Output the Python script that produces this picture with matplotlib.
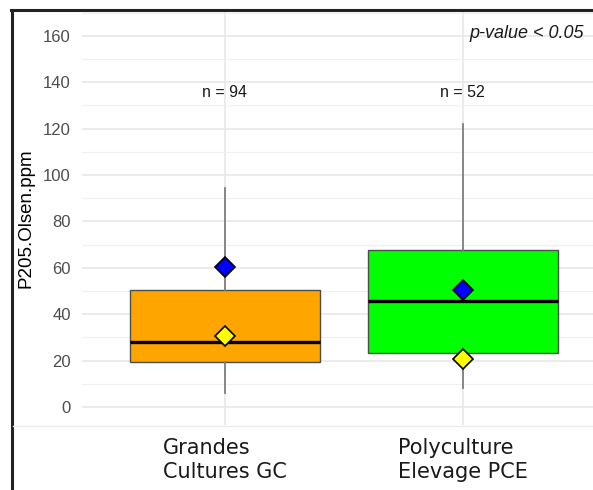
import matplotlib.pyplot as plt
from matplotlib.lines import Line2D
from matplotlib.ticker import MultipleLocator

# data
categories = ['Grandes\nCultures GC', 'Polyculture\nElevage PCE']
n_obs = [94, 52]
whislo = [6, 8]
q1 = [19.5, 23.4]
med = [28.1, 45.7]
q3 = [50.4, 67.7]
whishi = [94.4, 122]
blue_pts = [60.5, 50.4]
yellow_pts = [30.6, 20.5]
box_colors = ['#FFA500', '#00FF00']

W, H = 593, 490
fig = plt.figure(figsize=(W / 100, H / 100), dpi=100)

# axes placed in pixel coords
left, right, bottom, top = 82, 593, 425, 12
ax = fig.add_axes([left / W, (H - bottom) / H, (right - left) / W, (bottom - top) / H])

pos = [1, 2]
stats = []
for i in range(len(categories)):
    stats.append(dict(whislo=whislo[i], q1=q1[i], med=med[i], q3=q3[i],
                      whishi=whishi[i], fliers=[]))

bp = ax.bxp(stats, positions=pos, widths=0.8, patch_artist=True, showcaps=False,
            boxprops=dict(edgecolor='#4d4d4d', linewidth=1.0),
            whiskerprops=dict(color='#7f7f7f', linewidth=1.3),
            medianprops=dict(color='black', linewidth=2.4),
            zorder=2)
for patch, c in zip(bp['boxes'], box_colors):
    patch.set_facecolor(c)

ax.plot(pos, blue_pts, linestyle='none', marker='D', markersize=10,
        markerfacecolor='#0000FF', markeredgecolor='black', markeredgewidth=1.2, zorder=4)
ax.plot(pos, yellow_pts, linestyle='none', marker='D', markersize=10,
        markerfacecolor='#FFFF00', markeredgecolor='black', markeredgewidth=1.2, zorder=4)

for p, n in zip(pos, n_obs):
    ax.text(p, 135.8, f'n = {n}', ha='center', va='center', fontsize=11.5,
            family='Liberation Sans', color='#1a1a1a')

ax.text(2.51, 161, 'p-value < 0.05', ha='right', va='center', fontsize=13,
        style='italic', family='Liberation Sans', color='#1a1a1a')

ax.set_xlim(0.4, 2.547)
ax.set_ylim(-7.76, 170.3)
ax.set_xticks(pos)
ax.set_xticklabels(categories, fontsize=15, family='DejaVu Sans', color='#1a1a1a')
for lab in ax.get_xticklabels():
    lab.set_multialignment('left')
    lab.set_linespacing(1.3)
ax.yaxis.set_major_locator(MultipleLocator(20))
ax.yaxis.set_minor_locator(MultipleLocator(10))
for lab in ax.get_yticklabels():
    lab.set_family('Liberation Sans')
ax.tick_params(axis='y', labelsize=12, labelcolor='#4d4d4d', length=0, pad=8)
ax.tick_params(axis='y', which='minor', length=0)
ax.tick_params(axis='x', length=0, pad=9)

ax.set_ylabel('P205.Olsen.ppm', fontsize=13.5, family='Liberation Sans', labelpad=6)

ax.grid(True, which='major', color='#e8e8e8', linewidth=1.2, zorder=0)
ax.grid(True, which='minor', axis='y', color='#f0f0f0', linewidth=0.9, zorder=0)
ax.set_axisbelow(True)
for s in ax.spines.values():
    s.set_visible(False)

# screenshot frame and bottom separator
fig.add_artist(Line2D([12 / W, 12 / W], [0, 1 - 10 / H], color='#222222', linewidth=2.2))
fig.add_artist(Line2D([11 / W, 1], [1 - 10 / H, 1 - 10 / H], color='#222222', linewidth=2.2))
fig.add_artist(Line2D([13 / W, 1], [1 - 426 / H, 1 - 426 / H], color='#ebebeb', linewidth=1.0))

fig.savefig('out.png', dpi=100)
